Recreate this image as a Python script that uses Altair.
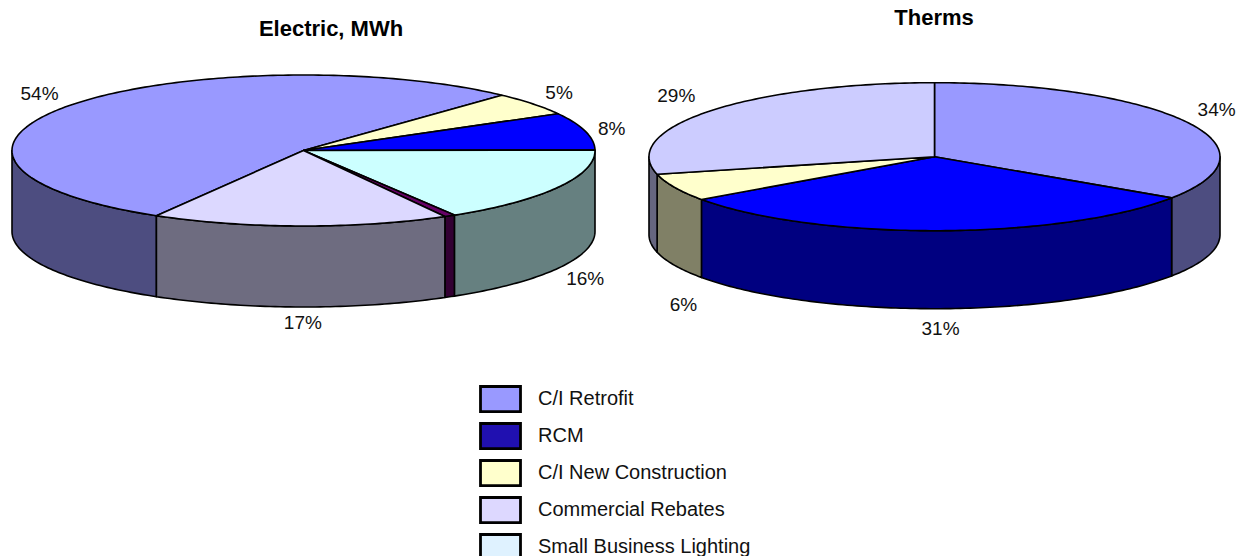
import math
import altair as alt
import pandas as pd

# Slice order runs clockwise from each pie's start angle.
electric_names = ["C/I Retrofit", "C/I New Construction", "RCM", "Small Business Lighting", "Other", "Commercial Rebates"]
electric_values = [53.6, 5.0, 8.0, 16.49, 0.6, 16.51]
electric_tops = ["#9999ff", "#ffffcc", "#0000ff", "#ccffff", "#660066", "#dcd8ff"]
electric_walls = ["#4d4d80", "#808066", "#000080", "#668080", "#330033", "#6e6c80"]
electric_labelled = [True, True, True, True, False, True]

therm_names = ["C/I Retrofit", "RCM", "C/I New Construction", "Commercial Rebates"]
therm_values = [34.4, 30.8, 6.0, 28.8]
therm_tops = ["#9999ff", "#0000ff", "#ffffcc", "#ccccff"]
therm_walls = ["#4d4d80", "#000080", "#808066", "#666680"]
therm_labelled = [True, True, True, True]

legend_names = ["C/I Retrofit", "RCM", "C/I New Construction", "Commercial Rebates", "Small Business Lighting"]
legend_colors = ["#9999ff", "#2010b0", "#ffffcc", "#ddd8ff", "#dff2ff"]

W, H = 1247, 556
FONT = "Liberation Sans"


def ellipse(pie, deg):
    t = math.radians(deg)
    return pie["cx"] + pie["a"] * math.cos(t), pie["cy"] - pie["b"] * math.sin(t)


def build(pie, names, values, tops, walls, labelled):
    """Turn slice values into outline rows for the pie's top and rim, plus its labels."""
    top_rows, wall_rows, label_rows = [], [], []
    total = sum(values)
    angle = pie["start"]
    for name, value, top, wall, show in zip(names, values, tops, walls, labelled):
        sweep = value / total * 360
        end = angle - sweep
        key = f'{pie["id"]}-{name}'
        steps = max(2, int(sweep) + 1)
        arc = [angle - sweep * i / steps for i in range(steps + 1)]

        outline = [(pie["cx"], pie["cy"])] + [ellipse(pie, d) for d in arc]
        for i, (x, y) in enumerate(outline):
            top_rows.append(dict(piece=key, fill=top, i=i, x=x, y=y))

        # The rim is only visible along the front half of the ellipse.
        for lap in (0, -360):
            lo, hi = max(end, lap - 180), min(angle, lap)
            if lo < hi:
                n = max(2, int(hi - lo) + 1)
                rim = [ellipse(pie, hi - (hi - lo) * j / n) for j in range(n + 1)]
                points = rim + [(x, y + pie["depth"]) for x, y in reversed(rim)]
                for i, (x, y) in enumerate(points):
                    wall_rows.append(dict(piece=f"{key}-{lap}", fill=wall, i=i, x=x, y=y))

        if show:
            mid = math.radians(angle - sweep / 2)
            dx, dy = pie["nudge"].get(name, (0, 0))
            lift = pie["depth"] if math.sin(mid) < 0 else 0
            label_rows.append(dict(
                x=pie["cx"] + pie["la"] * math.cos(mid) + dx,
                y=pie["cy"] - pie["lb"] * math.sin(mid) + lift + dy,
                text=f"{value:.0f}%",
            ))
        angle = end
    return top_rows, wall_rows, label_rows


electric_pie = dict(id="e", cx=303.5, cy=150.5, a=291.5, b=75.5, depth=81, start=-120.3, la=325, lb=97,
                    nudge={"C/I Retrofit": (-3, 1), "C/I New Construction": (0, 2), "RCM": (-6, 3),
                           "Small Business Lighting": (-2, 0), "Commercial Rebates": (3, -5)})
therm_pie = dict(id="t", cx=934.5, cy=156.7, a=285.5, b=74, depth=78, start=90, la=322, lb=99,
                 nudge={"C/I New Construction": (42, 29), "RCM": (2, -5), "Commercial Rebates": (-5, 0), "C/I Retrofit": (-2, 0)})

e_top, e_wall, e_labels = build(electric_pie, electric_names, electric_values, electric_tops, electric_walls, electric_labelled)
t_top, t_wall, t_labels = build(therm_pie, therm_names, therm_values, therm_tops, therm_walls, therm_labelled)

x_enc = alt.X("x:Q", scale=alt.Scale(domain=[0, W], range=[0, W]), axis=None)
y_enc = alt.Y("y:Q", scale=alt.Scale(domain=[0, H], range=[0, H]), axis=None)


def faces(rows):
    return alt.Chart(pd.DataFrame(rows)).mark_line(
        filled=True, interpolate="linear-closed", stroke="#000000", strokeWidth=1.6, strokeJoin="round"
    ).encode(
        x=x_enc, y=y_enc,
        fill=alt.Fill("fill:N", scale=None),
        detail="piece:N",
        order="i:Q",
    )


walls_layer = faces(e_wall + t_wall)
tops_layer = faces(e_top + t_top)

percent_layer = alt.Chart(pd.DataFrame(e_labels + t_labels)).mark_text(
    font=FONT, fontSize=19, color="#111111"
).encode(x=x_enc, y=y_enc, text="text:N")

title_rows = pd.DataFrame([
    dict(x=331, y=29, text="Electric, MWh"),
    dict(x=934, y=18, text="Therms"),
])
title_layer = alt.Chart(title_rows).mark_text(
    font=FONT, fontSize=22, fontWeight="bold", color="#000000"
).encode(x=x_enc, y=y_enc, text="text:N")

# A zero-sized point layer exists only to carry the shared legend.
legend_layer = alt.Chart(pd.DataFrame({"name": legend_names, "x": [0] * 5, "y": [0] * 5})).mark_point(
    filled=True, size=0
).encode(
    x=x_enc, y=y_enc,
    color=alt.Color(
        "name:N",
        scale=alt.Scale(domain=legend_names, range=legend_colors),
        legend=alt.Legend(
            title=None, orient="none", legendX=479, legendY=381,
            symbolType="M-1,-0.63H1V0.63H-1Z", symbolSize=1600,
            symbolStrokeColor="#000000", symbolStrokeWidth=2.8, symbolOpacity=1,
            clipHeight=36.2, rowPadding=0, labelOffset=16,
            labelFont=FONT, labelFontSize=20, labelColor="#111111", labelLimit=400,
        ),
    ),
)

chart = alt.layer(walls_layer, tops_layer, percent_layer, title_layer, legend_layer).properties(
    width=W, height=H, padding=0, autosize=alt.AutoSizeParams(type="none"),
).configure_view(stroke=None)

chart.save("out.html", embed_options={"renderer": "svg", "actions": False})
